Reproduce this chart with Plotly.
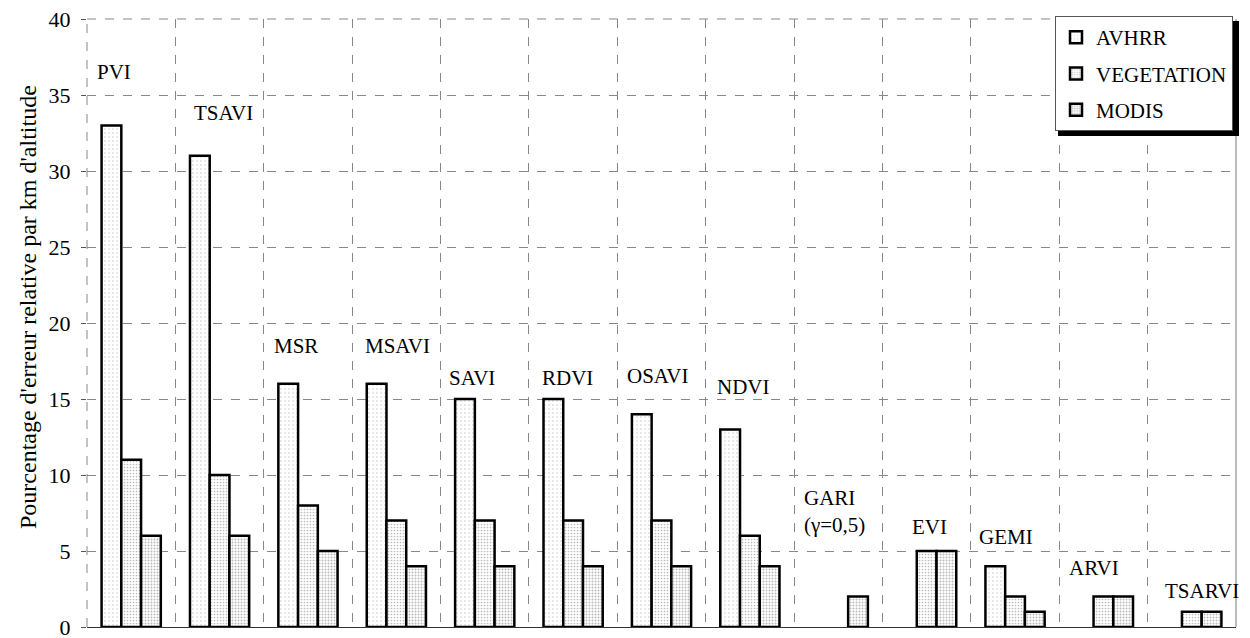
import plotly.graph_objects as go

# indices de vegetation (ordre du graphique)
indices = ["PVI", "TSAVI", "MSR", "MSAVI", "SAVI", "RDVI", "OSAVI", "NDVI",
           "GARI<br>(γ=0,5)", "EVI", "GEMI", "ARVI", "TSARVI"]

# pourcentage d'erreur relative par km d'altitude, par capteur
avhrr = [33, 31, 16, 16, 15, 15, 14, 13, None, None, 4, None, None]
vegetation = [11, 10, 8, 7, 7, 7, 7, 6, None, 5, 2, 2, 1]
modis = [6, 6, 5, 4, 4, 4, 4, 4, 2, 5, 1, 2, 1]

y_ticks = [0, 5, 10, 15, 20, 25, 30, 35, 40]

# position des etiquettes (decalage en x depuis le bord gauche de la categorie, hauteur en y)
label_dx = [0.09, 0.19, 0.09, 0.12, 0.07, 0.12, 0.09, 0.10, 0.09, 0.31, 0.07, 0.09, 0.17]
label_y = [36.5, 33.8, 18.5, 18.5, 16.4, 16.4, 16.5, 15.8, 7.6, 6.6, 5.9, 3.9, 2.4]

serif = "Liberation Serif, Times New Roman, Times, serif"
x = list(range(len(indices)))

# la page html ajoute 8 px de marge autour de la figure
W, H = 1242, 640
L, R, T, B = 79, 14, 11, 21
pw, ph = W - L - R, H - T - B

fig = go.Figure()

series = [("AVHRR", avhrr, 0.08, 4), ("VEGETATION", vegetation, 0.25, 3), ("MODIS", modis, 0.35, 3)]
for name, vals, solid, sz in series:
    fig.add_trace(go.Bar(
        x=x, y=vals, name=name, legendgroup=name,
        marker=dict(color="white",
                    line=dict(color="black", width=2.5),
                    pattern=dict(shape=".", fgcolor="#777", bgcolor="white",
                                 size=sz, solidity=solid)),
    ))

for i, name in enumerate(indices):
    fig.add_annotation(x=i - 0.5 + label_dx[i], y=label_y[i], text=name,
                       xanchor="left", yanchor="middle", showarrow=False,
                       align="left", font=dict(family=serif, size=21, color="black"))

# titre de l'axe y (un peu au-dessus du centre, comme l'original)
fig.add_annotation(xref="paper", yref="paper", x=(20 - L) / pw, y=(H - B - 299) / ph,
                   text="Pourcentage d'erreur relative par km d'altitude",
                   textangle=-90, showarrow=False, xanchor="center", yanchor="middle",
                   font=dict(family=serif, size=24, color="black"))

# cadre : haut et gauche en tirets, droite en trait plein
fig.add_shape(type="line", xref="paper", yref="paper", x0=0, x1=1, y0=1, y1=1,
              line=dict(color="#888", width=1, dash="dash"), layer="below")
fig.add_shape(type="line", xref="paper", yref="paper", x0=0, x1=0, y0=0, y1=1,
              line=dict(color="#888", width=1, dash="dash"), layer="below")
fig.add_shape(type="line", xref="paper", yref="paper", x0=1, x1=1, y0=0, y1=1,
              line=dict(color="#777", width=1), layer="below")

# ombre de la legende (pixels de la figure)
sx0, sx1, sy0, sy1 = 1050, 1231, 13, 128
fig.add_shape(type="rect", xref="paper", yref="paper",
              x0=(sx0 - L) / pw, x1=(sx1 - L) / pw,
              y0=(H - B - sy1) / ph, y1=(H - B - sy0) / ph,
              fillcolor="black", line_width=0, layer="above")

fig.update_layout(
    width=W, height=H,
    margin=dict(l=L, r=R, t=T, b=B, autoexpand=False),
    plot_bgcolor="white", paper_bgcolor="white",
    barmode="group", bargap=0.33, bargroupgap=0,
    font=dict(family=serif, size=21, color="black"),
    legend=dict(x=(1225 - L) / pw, y=(H - B - 8) / ph, xanchor="right", yanchor="top",
                bgcolor="white", bordercolor="#555", borderwidth=1,
                tracegroupgap=6, font=dict(family=serif, size=21),
                itemwidth=30),
    showlegend=True,
)

fig.update_xaxes(range=[-0.5, len(indices) - 0.5],
                 tickvals=[v - 0.5 for v in range(len(indices) + 1)],
                 showticklabels=False, ticks="",
                 showgrid=True, gridcolor="#888", griddash="dash", gridwidth=1,
                 showline=True, linecolor="#333", linewidth=1, zeroline=False)
fig.update_yaxes(range=[0, 40], tickvals=y_ticks, automargin=False,
                 ticks="outside", ticklen=5, tickcolor="#555",
                 ticklabelstandoff=6, ticklabeloverflow="allow",
                 tickfont=dict(family=serif, size=22),
                 showgrid=True, gridcolor="#888", griddash="dash", gridwidth=1,
                 zeroline=False, showline=False)

fig.write_html("out.html")
